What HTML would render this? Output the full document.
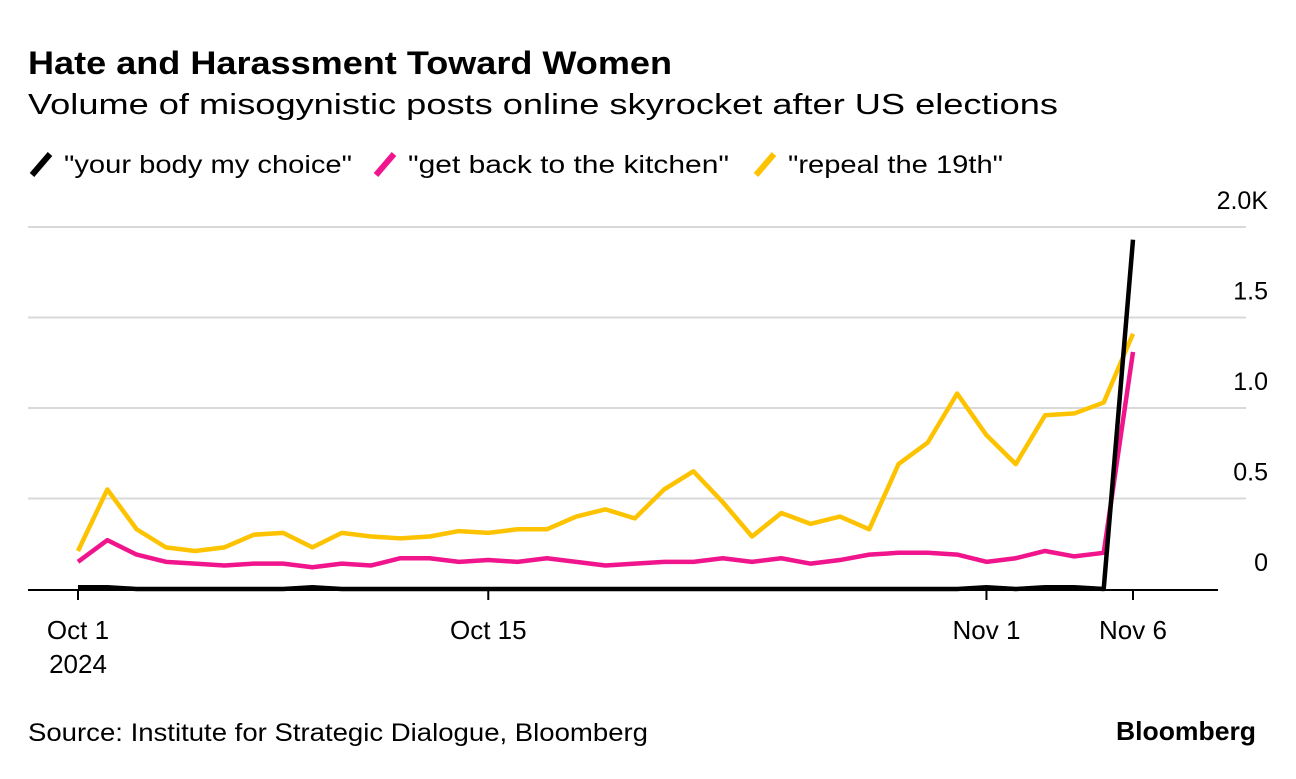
<!DOCTYPE html>
<html><head><meta charset="utf-8"><style>
body{margin:0;background:#fff;font-family:"Liberation Sans",sans-serif;}
svg text{font-family:"Liberation Sans",sans-serif;}
</style></head><body>
<svg width="1296" height="774">
<text x="28" y="74" font-size="32" font-weight="bold" fill="#000" textLength="644" lengthAdjust="spacingAndGlyphs">Hate and Harassment Toward Women</text>
<text x="28" y="114" font-size="29" fill="#000" textLength="1030" lengthAdjust="spacingAndGlyphs">Volume of misogynistic posts online skyrocket after US elections</text>
<g>
<line x1="32" y1="175" x2="50" y2="154" stroke="#000" stroke-width="6"/>
<text x="64" y="173" font-size="25" textLength="288" lengthAdjust="spacingAndGlyphs">"your body my choice"</text>
<line x1="376" y1="175" x2="394" y2="154" stroke="#f0158c" stroke-width="6"/>
<text x="408" y="173" font-size="25" textLength="321" lengthAdjust="spacingAndGlyphs">"get back to the kitchen"</text>
<line x1="756" y1="175" x2="774" y2="154" stroke="#fdc300" stroke-width="6"/>
<text x="788" y="173" font-size="25" textLength="215" lengthAdjust="spacingAndGlyphs">"repeal the 19th"</text>
</g>
<g id="grid"></g><g id="lines"></g><g id="xaxis"></g>
<text x="28" y="741" font-size="25" textLength="620" lengthAdjust="spacingAndGlyphs">Source: Institute for Strategic Dialogue, Bloomberg</text>
<text x="1116" y="740" font-size="26" font-weight="bold" textLength="140" lengthAdjust="spacingAndGlyphs">Bloomberg</text>
</svg>
<script>
const yTicks=[0,0.5,1.0,1.5,2.0];
const yTickLabels=["0","0.5","1.0","1.5","2.0K"];
const xTickDays=[0,14,31,36];
const xTickLabels=["Oct 1","Oct 15","Nov 1","Nov 6"];
const body=[0.01,0.01,0.0,0.0,0.0,0.0,0.0,0.0,0.01,0.0,0.0,0.0,0.0,0.0,0.0,0.0,0.0,0.0,0.0,0.0,0.0,0.0,0.0,0.0,0.0,0.0,0.0,0.0,0.0,0.0,0.0,0.01,0.0,0.01,0.01,0.0,1.93];
const kitchen=[0.15,0.27,0.19,0.15,0.14,0.13,0.14,0.14,0.12,0.14,0.13,0.17,0.17,0.15,0.16,0.15,0.17,0.15,0.13,0.14,0.15,0.15,0.17,0.15,0.17,0.14,0.16,0.19,0.20,0.20,0.19,0.15,0.17,0.21,0.18,0.20,1.31];
const repeal=[0.21,0.55,0.33,0.23,0.21,0.23,0.30,0.31,0.23,0.31,0.29,0.28,0.29,0.32,0.31,0.33,0.33,0.40,0.44,0.39,0.55,0.65,0.48,0.29,0.42,0.36,0.40,0.33,0.69,0.81,1.08,0.85,0.69,0.96,0.97,1.03,1.41];
const NS="http://www.w3.org/2000/svg";
const xS=d=>78+d*(1133-78)/36;
const yS=v=>589-v*(589-227)/2;
function mk(t,a,p){const e=document.createElementNS(NS,t);for(const k in a)e.setAttribute(k,a[k]);p.appendChild(e);return e;}
const grid=document.getElementById('grid');
yTicks.forEach((v,i)=>{
  if(v>0){const l=mk('line',{x1:28,x2:1246,y1:yS(v),y2:yS(v),stroke:'#d9d9d9','stroke-width':2},grid);
  
  }
  const t=mk('text',{x:1268,y:yS(v)-18,'font-size':25,'text-anchor':'end'},grid);
  t.textContent=yTickLabels[i];
  
  
});
const lines=document.getElementById('lines');
[[repeal,'#fdc300','line-repeal-19th'],[kitchen,'#f0158c','line-kitchen'],[body,'#000','line-your-body']].forEach(([s,c,n])=>{
  const p=mk('polyline',{points:s.map((v,i)=>xS(i)+','+yS(v)).join(' '),fill:'none',stroke:c,'stroke-width':4.5,'stroke-linejoin':'round'},lines);
  
  
});
const xa=document.getElementById('xaxis');
const ax=mk('line',{x1:28,x2:1218,y1:590,y2:590,stroke:'#000','stroke-width':2},xa);


xTickDays.forEach((d,i)=>{
  const tk=mk('line',{x1:xS(d),x2:xS(d),y1:590,y2:600,stroke:'#000','stroke-width':2},xa);
  
  
  const t=mk('text',{x:xS(d),y:639,'font-size':26,'text-anchor':'middle'},xa);
  t.textContent=xTickLabels[i];
  
  
});
const yr=mk('text',{x:xS(0),y:673,'font-size':26,'text-anchor':'middle'},xa);
yr.textContent="2024";


</script>
</body></html>
